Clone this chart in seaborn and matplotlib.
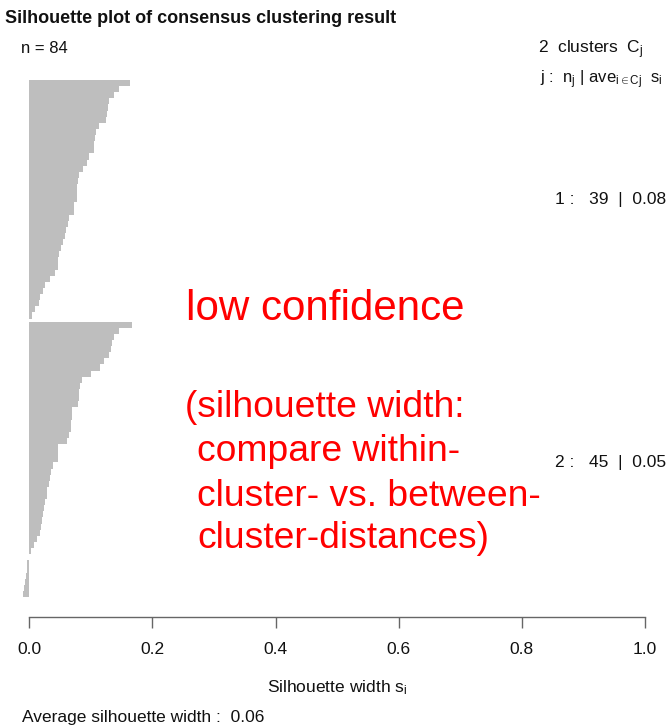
import matplotlib
matplotlib.use("Agg")
import matplotlib.pyplot as plt
import seaborn as sns
import pandas as pd
import numpy as np

# ---- data ----
cluster1_widths = [0.163, 0.146, 0.138, 0.130, 0.128, 0.126, 0.124, 0.114, 0.108, 0.106,
                   0.105, 0.105, 0.097, 0.093, 0.087, 0.080, 0.079, 0.078, 0.077, 0.077,
                   0.072, 0.072, 0.064, 0.063, 0.059, 0.058, 0.055, 0.051, 0.048, 0.047,
                   0.047, 0.041, 0.034, 0.026, 0.023, 0.017, 0.016, 0.009, 0.005]
cluster2_widths = [0.166, 0.145, 0.138, 0.135, 0.132, 0.130, 0.122, 0.115, 0.101, 0.086,
                   0.083, 0.081, 0.080, 0.079, 0.070, 0.069, 0.068, 0.067, 0.064, 0.062,
                   0.046, 0.046, 0.046, 0.038, 0.036, 0.033, 0.032, 0.029, 0.028, 0.026,
                   0.024, 0.022, 0.020, 0.019, 0.017, 0.012, 0.008, 0.003, 0.000,
                   -0.003, -0.004, -0.005, -0.007, -0.009, -0.010]
cluster_ids = [1, 2]
cluster_sizes = ["39", "45"]
cluster_avgs = ["0.08", "0.05"]
x_ticks = [0.0, 0.2, 0.4, 0.6, 0.8, 1.0]
x_tick_labels = ["0.0", "0.2", "0.4", "0.6", "0.8", "1.0"]
n_total = "84"
avg_total = "0.06"
annotation_lines = ["(silhouette width:", "compare within-", "cluster- vs. between-", "cluster-distances)"]

# ---- build table ----
pos = []
vals = []
for i, v in enumerate(cluster1_widths):
    pos.append(i + 0.5); vals.append(v)
off = len(cluster1_widths) + 0.5
for j, v in enumerate(cluster2_widths):
    pos.append(off + j + 0.5); vals.append(v)
df = pd.DataFrame({"pos": pos, "width": vals})

sns.set_theme(style="white")
plt.rcParams["font.family"] = ["Liberation Sans", "DejaVu Sans"]
plt.rcParams["mathtext.fontset"] = "custom"
plt.rcParams["mathtext.rm"] = "Liberation Sans"
plt.rcParams["mathtext.it"] = "Liberation Sans:italic"

W, H = 670, 726
fig = plt.figure(figsize=(W / 100, H / 100), dpi=100)
fig.patch.set_facecolor("white")

def fx(px):
    return px / W

def fy(py):
    return 1 - py / H

ax = fig.add_axes([fx(1.6), fy(617), (669.6 - 1.6) / W, (617 - 80) / H])
sns.barplot(data=df, x="width", y="pos", orient="h", native_scale=True,
            color="#BEBEBE", saturation=1, width=1, linewidth=0,
            errorbar=None, ax=ax)
ax.set_xlim(-0.045, 1.04)
ax.set_ylim(87.77, 0)
ax.set_facecolor("white")
for s in ["left", "top", "right"]:
    ax.spines[s].set_visible(False)
ax.spines["bottom"].set_bounds(0, 1)
ax.spines["bottom"].set_color("#666666")
ax.spines["bottom"].set_linewidth(1.0)
ax.set_xticks(x_ticks)
ax.set_xticklabels(x_tick_labels, fontsize=12.5, color="#111111")
ax.tick_params(axis="x", direction="out", length=8, width=1.0, color="#666666", pad=10, bottom=True)
ax.set_yticks([])
ax.set_xlabel("")
ax.set_ylabel("")
ax.grid(False)

# ---- texts ----
fig.text(fx(5), fy(23), "Silhouette plot of consensus clustering result",
         fontsize=13, fontweight="bold", ha="left", va="baseline", color="#111111")
fig.text(fx(21), fy(53), f"n = {n_total}", fontsize=12, ha="left", va="baseline", color="#111111")
fig.text(fx(538), fy(53), r"2  clusters  $\mathrm{C_j}$", fontsize=12.5, ha="left", va="baseline", color="#111111")
fig.text(fx(540), fy(83), r"j :  $\mathrm{n_j}$ | $\mathrm{ave_{i\in Cj}}$  $\mathrm{s_i}$", fontsize=12,
         ha="left", va="baseline", color="#111111")
label_y = [204, 467]
for cid, n, a, yb in zip(cluster_ids, cluster_sizes, cluster_avgs, label_y):
    fig.text(fx(555), fy(yb), f"{cid} :   {n}  |  {a}", fontsize=12.5, ha="left", va="baseline", color="#111111")

fig.text(fx(337), fy(692), r"Silhouette width $\mathrm{s_i}$", fontsize=12.5, ha="center", va="baseline", color="#111111")
fig.text(fx(22), fy(722), f"Average silhouette width :  {avg_total}", fontsize=12.5, ha="left", va="baseline", color="#111111")

fig.text(fx(186), fy(320), "low confidence", fontsize=30.3, color="red", ha="left", va="baseline")
ann_x = [185, 197, 197, 197]
ann_y = [417, 461, 506, 548]
for t, xx, yy in zip(annotation_lines, ann_x, ann_y):
    fig.text(fx(xx), fy(yy), t, fontsize=26.8, color="red", ha="left", va="baseline")

fig.savefig("out.png", dpi=100, facecolor="white")
